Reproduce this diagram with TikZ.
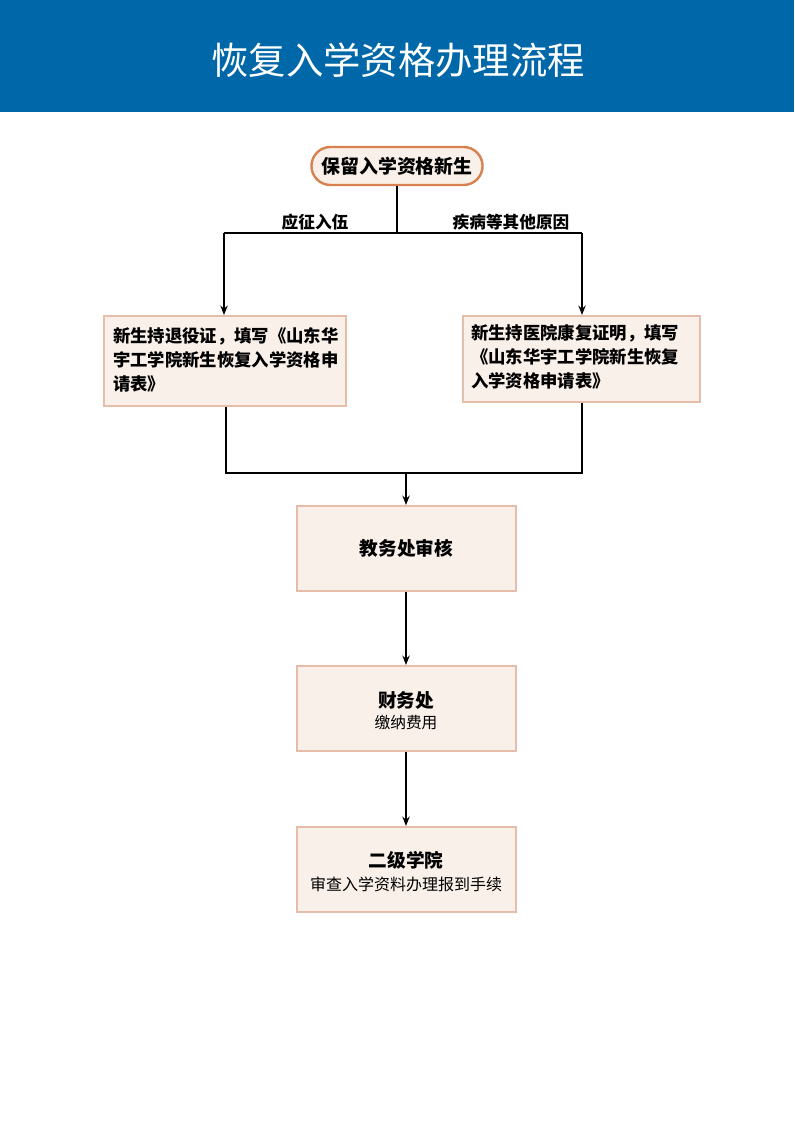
\documentclass[tikz,border=0pt]{standalone}
\usepackage{fontspec}
\newfontfamily\cjk{Noto Sans CJK SC}
\usetikzlibrary{arrows.meta,shapes.misc}
\definecolor{hdr}{HTML}{0068A8}
\definecolor{boxfill}{HTML}{F9F0E9}
\definecolor{boxedge}{HTML}{E6BCAA}
\definecolor{startedge}{HTML}{D6814F}
\begin{document}
\begin{tikzpicture}[x=0.75pt,y=-0.75pt,
  every node/.style={font=\cjk},
  procbox/.style={draw=boxedge,fill=boxfill,line width=1.6pt,inner sep=0pt},
  conn/.style={line width=1.1pt,black},
  arr/.style={conn,-{Stealth[length=7pt,width=5.5pt]}}]
\useasboundingbox (0,0) rectangle (794,1123);
\fill[white] (0,0) rectangle (794,1123);
\fill[hdr] (0,0) rectangle (794,112);
\node[text=white,font=\cjk\fontsize{28}{30}\selectfont] (title) at (398,60) {恢复入学资格办理流程};

\node[draw=startedge,fill=boxfill,line width=1.8pt,rounded rectangle,minimum width=180*0.75pt,minimum height=38*0.75pt,font=\cjk\bfseries\fontsize{14.2}{16}\selectfont] (start) at (397,166) {保留入学资格新生};

\coordinate (split) at (397,233);
\coordinate (sl) at (224,233);
\coordinate (sr) at (582,233);

\node[procbox,minimum width=242*0.75pt,minimum height=90*0.75pt] (left) at (225,361) {};
\node[anchor=north west,align=left,inner sep=0pt,font=\cjk\bfseries\fontsize{13}{18}\selectfont] (lefttxt) at (113,327) {新生持退役证，填写《山东华\\宇工学院新生恢复入学资格申\\请表》};

\node[procbox,minimum width=237*0.75pt,minimum height=86*0.75pt] (right) at (581.5,359) {};
\node[anchor=north west,align=left,inner sep=0pt,font=\cjk\bfseries\fontsize{13}{18}\selectfont] (righttxt) at (471,324) {新生持医院康复证明，填写\\《山东华宇工学院新生恢复\\入学资格申请表》};

\node[font=\cjk\bfseries\fontsize{12.5}{14}\selectfont] (lab1) at (315,222) {应征入伍};
\node[font=\cjk\bfseries\fontsize{12.5}{14}\selectfont] (lab2) at (511,222) {疾病等其他原因};

\draw[conn] (start.south) -- (split);
\draw[conn] (sl) -- (sr);
\draw[arr] (sl) -- (sl |- left.north);
\draw[arr] (sr) -- (sr |- right.north);

\node[procbox,minimum width=219*0.75pt,minimum height=85*0.75pt,font=\cjk\bfseries\fontsize{14}{16}\selectfont] (audit) at (406.5,548.5) {教务处审核};

\coordinate (jl) at (226,473);
\coordinate (jr) at (582,473);
\coordinate (jm) at (406,473);
\draw[conn] (left.south -| jl) -- (jl) -- (jr) -- (right.south -| jr);
\draw[arr] (jm) -- (audit.north -| jm);

\node[procbox,minimum width=219*0.75pt,minimum height=85*0.75pt] (fin) at (406.5,708.5) {};
\node[font=\cjk\bfseries\fontsize{14}{16}\selectfont] (fint) at (406,700) {财务处};
\node[font=\cjk\fontsize{11.8}{13}\selectfont] (fins) at (406,723) {缴纳费用};

\node[procbox,minimum width=219*0.75pt,minimum height=85*0.75pt] (coll) at (406.5,869.5) {};
\node[font=\cjk\bfseries\fontsize{14}{16}\selectfont] (collt) at (406,860) {二级学院};
\node[font=\cjk\fontsize{12}{13}\selectfont] (colls) at (406,884) {审查入学资料办理报到手续};

\draw[arr] (audit.south -| jm) -- (fin.north -| jm);
\draw[arr] (fin.south -| jm) -- (coll.north -| jm);
\end{tikzpicture}
\end{document}
